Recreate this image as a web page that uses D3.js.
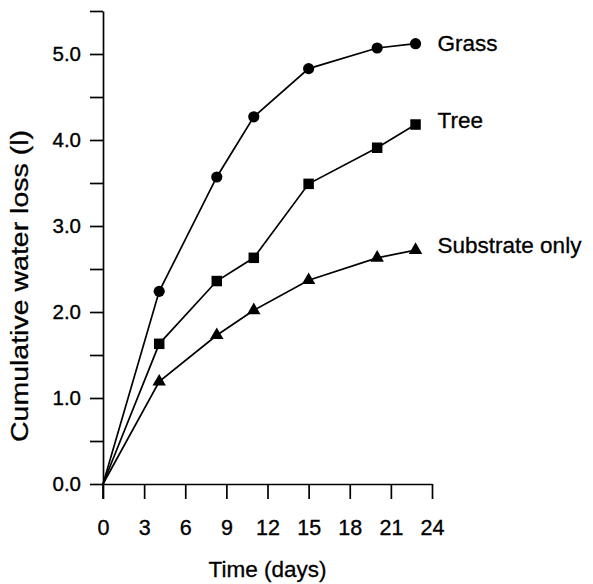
<!DOCTYPE html>
<html>
<head>
<meta charset="utf-8">
<script src="https://cdn.jsdelivr.net/npm/d3@7"></script>
<style>
  html, body { margin: 0; padding: 0; background: #fff; }
  svg { display: block; }
  text { font-family: "Liberation Sans", Arial, Helvetica, sans-serif; fill: #000; }
</style>
</head>
<body>
<svg id="chart" width="593" height="584"></svg>
<script>
// Sampling days (days since start)
const days = [0, 4.1, 8.3, 11, 15, 20, 22.8];

// Cumulative water loss in litres for each surface
const grass = [0, 2.24, 3.57, 4.27, 4.83, 5.07, 5.12];
const tree = [0, 1.63, 2.36, 2.63, 3.49, 3.91, 4.18];
const substrate = [0, 1.19, 1.73, 2.02, 2.37, 2.63, 2.72];

const seriesNames = ["Grass", "Tree", "Substrate only"];
const seriesValues = [grass, tree, substrate];
const seriesMarkers = ["circle", "square", "triangle"];

const xTicks = [0, 3, 6, 9, 12, 15, 18, 21, 24];
const yTicks = [0, 0.5, 1, 1.5, 2, 2.5, 3, 3.5, 4, 4.5, 5, 5.5];
const yLabelTicks = [0, 1, 2, 3, 4, 5];

const xTitle = "Time (days)";
const yTitle = "Cumulative water loss (l)";

// vertical nudge of each end label relative to its last point
const labelNudge = [7, 3, 3];

const svg = d3.select("#chart");

const x = d3.scaleLinear().domain([0, 24]).range([103, 432]);
const y = d3.scaleLinear().domain([0, 5.5]).range([484, 11]);

const ink = "#000";
const strokeW = 1.7;

// Axes
const xAxis = d3.axisBottom(x)
  .tickValues(xTicks)
  .tickSize(15)
  .tickSizeOuter(0)
  .tickPadding(21)
  .tickFormat(d3.format("d"));

const yAxis = d3.axisLeft(y)
  .tickValues(yTicks)
  .tickSize(13)
  .tickSizeOuter(0)
  .tickPadding(9)
  .tickFormat(d => yLabelTicks.includes(d) ? d3.format(".1f")(d) : "");

const gx = svg.append("g")
  .attr("transform", `translate(0,${y(0)})`)
  .call(xAxis);

const gy = svg.append("g")
  .attr("transform", `translate(${x(0)},0)`)
  .call(yAxis);

[gx, gy].forEach(g => {
  g.select(".domain").attr("stroke", ink).attr("stroke-width", strokeW);
  g.selectAll(".tick line").attr("stroke", ink).attr("stroke-width", strokeW);
  g.selectAll(".tick text")
    .attr("font-family", "'Liberation Sans', Arial, sans-serif")
    .attr("fill", ink)
    .attr("stroke", ink)
    .attr("stroke-width", 0.35);
});
gx.selectAll(".tick text").attr("font-size", 21.5);
gy.selectAll(".tick text").attr("font-size", 20.5);

// y-axis line continues down past the x-axis to the 0-day tick end
svg.append("line")
  .attr("x1", x(0)).attr("x2", x(0))
  .attr("y1", y(0)).attr("y2", y(0) + 15)
  .attr("stroke", ink).attr("stroke-width", strokeW);

// Axis titles
svg.append("text")
  .attr("x", (x(0) + x(24)) / 2)
  .attr("y", 577)
  .attr("text-anchor", "middle")
  .attr("font-size", 22.5)
  .attr("stroke", ink).attr("stroke-width", 0.3)
  .text(xTitle);

svg.append("text")
  .attr("transform", `translate(28,${286}) rotate(-90)`)
  .attr("text-anchor", "middle")
  .attr("font-size", 23.5)
  .attr("textLength", 312)
  .attr("lengthAdjust", "spacingAndGlyphs")
  .attr("stroke", ink).attr("stroke-width", 0.3)
  .text(yTitle);

// Series lines and markers
const line = d3.line()
  .x((d, i) => x(days[i]))
  .y(d => y(d));

const symbolFor = {
  circle: d3.symbol().type(d3.symbolCircle).size(Math.PI * 5.6 * 5.6),
  square: d3.symbol().type(d3.symbolSquare).size(10.5 * 10.5),
  triangle: d3.symbol().type(d3.symbolTriangle).size(78)
};

seriesValues.forEach((vals, si) => {
  const g = svg.append("g");
  g.append("path")
    .datum(vals)
    .attr("d", line)
    .attr("fill", "none")
    .attr("stroke", ink)
    .attr("stroke-width", strokeW);

  g.selectAll("path.mark")
    .data(vals.slice(1))
    .join("path")
    .attr("class", "mark")
    .attr("transform", (d, i) => `translate(${x(days[i + 1])},${y(d)})`)
    .attr("d", symbolFor[seriesMarkers[si]])
    .attr("fill", ink);

  const last = vals.length - 1;
  g.append("text")
    .attr("x", x(days[last]) + 22)
    .attr("y", y(vals[last]) + labelNudge[si])
    .attr("font-size", 22.5)
    .attr("stroke", ink).attr("stroke-width", 0.3)
    .text(seriesNames[si]);
});
</script>
</body>
</html>
